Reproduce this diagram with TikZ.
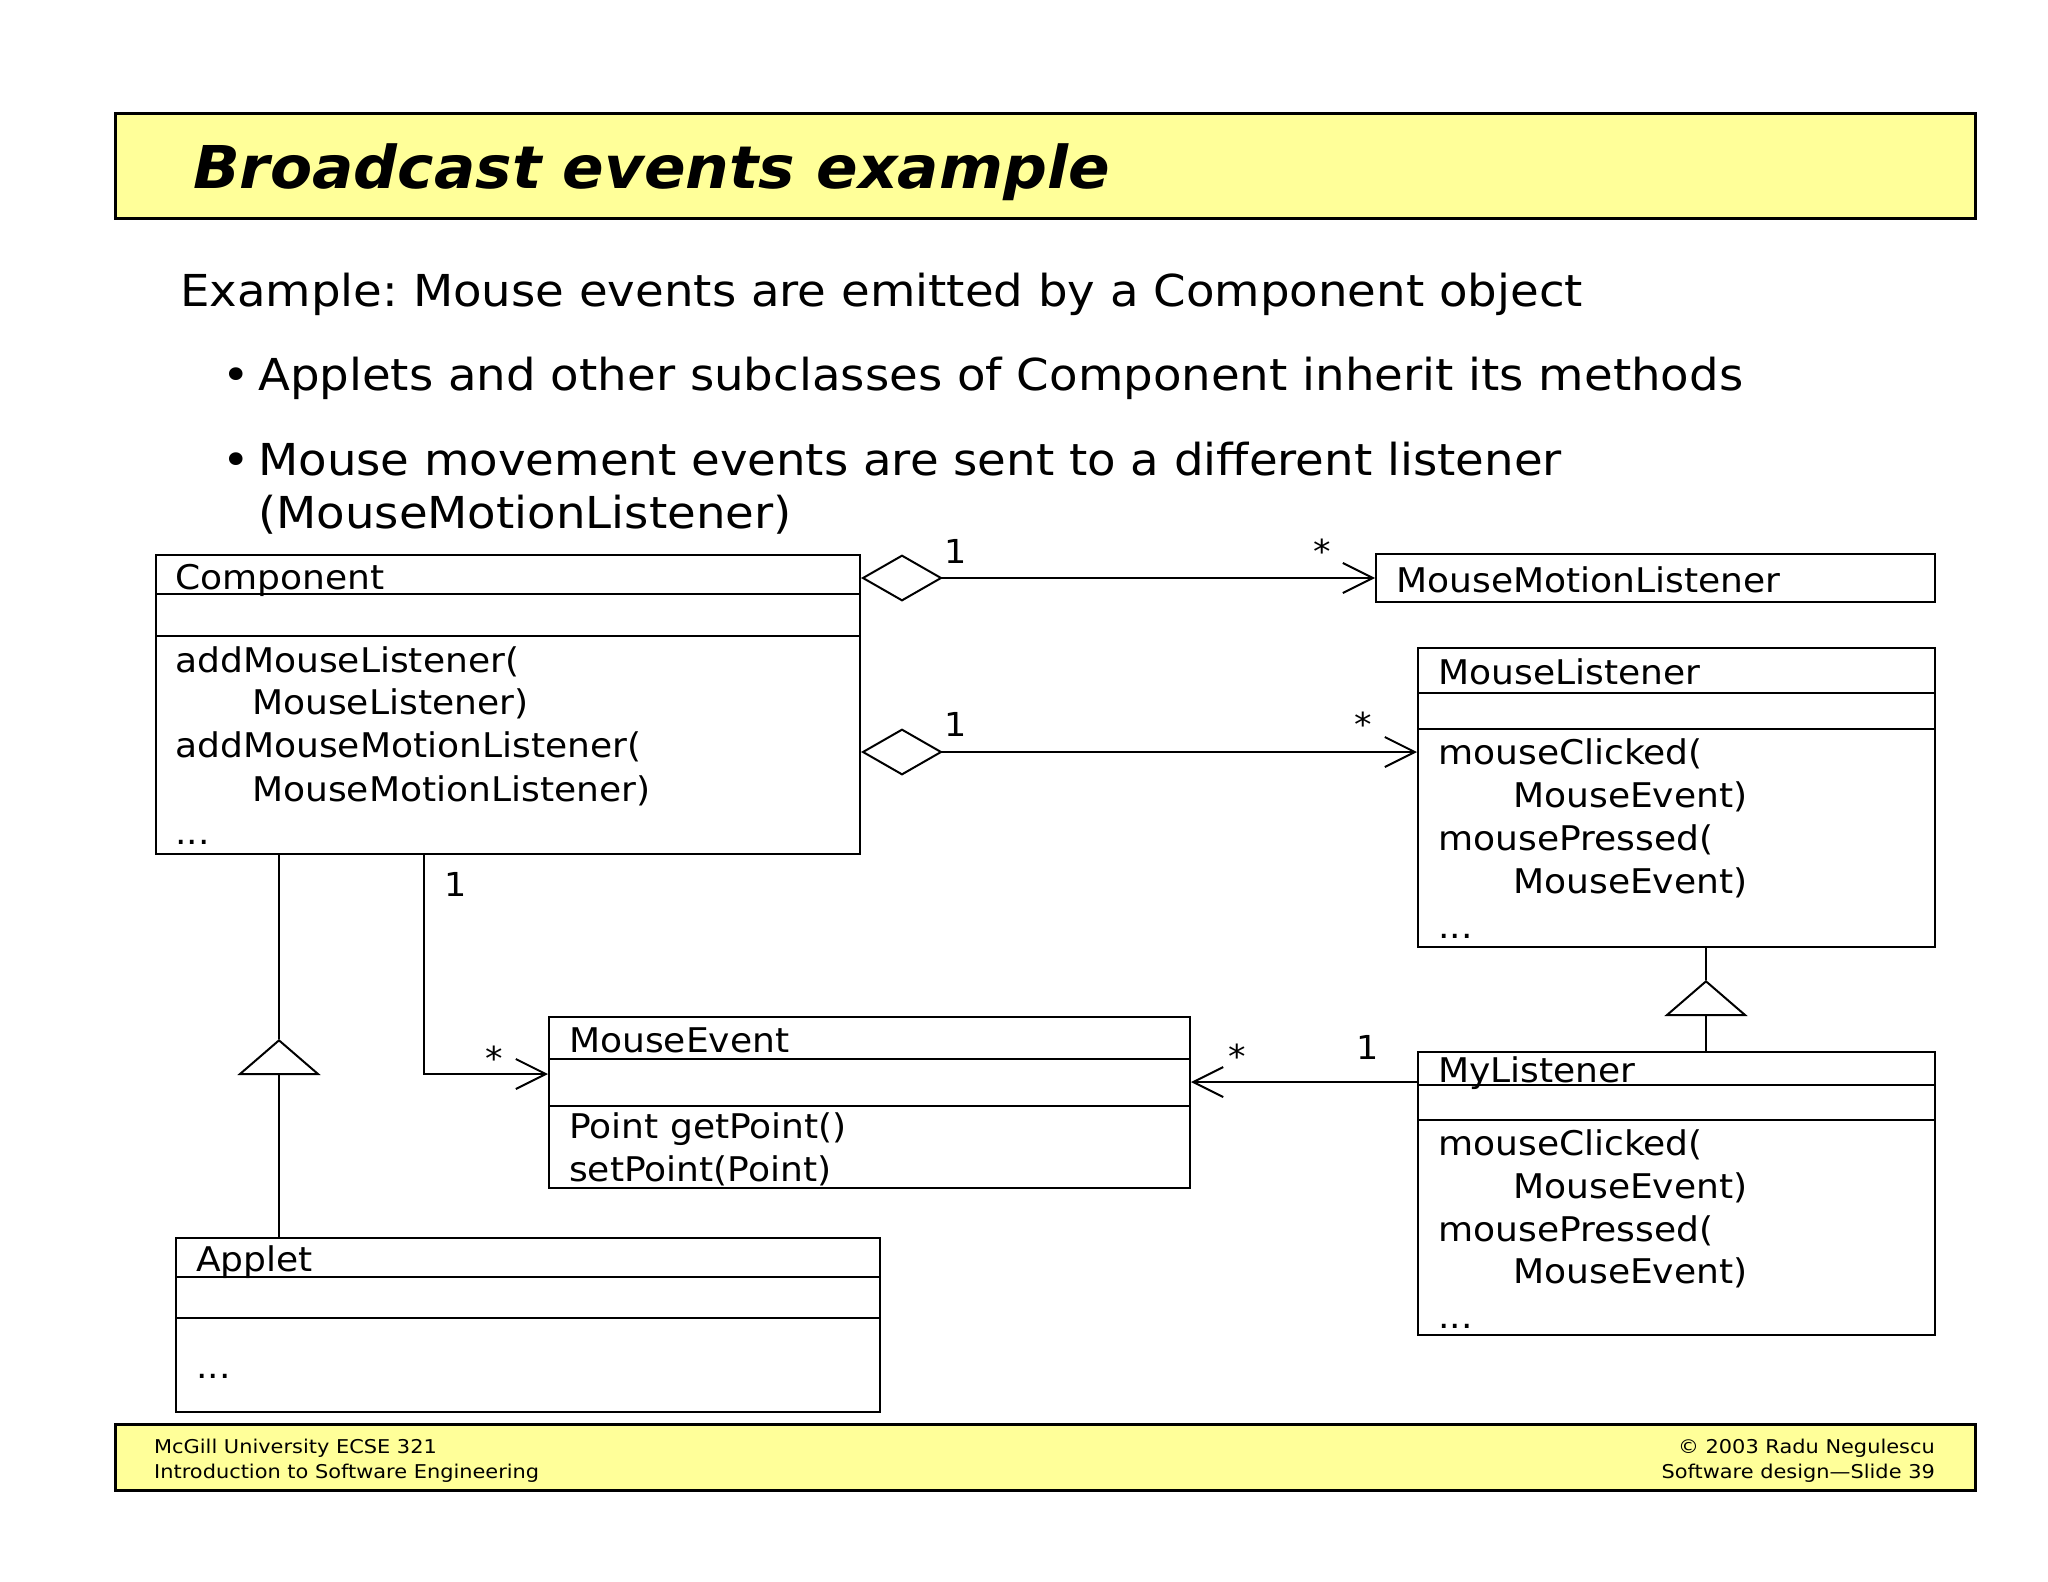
\documentclass[tikz,border=0pt]{standalone}
\usepackage{fontspec}
\setmainfont{DejaVu Sans}[FakeStretch=1.06]
\newfontfamily\titlefont{DejaVu Sans}[FakeStretch=1.04]
\newfontfamily\footfont{DejaVu Sans}[FakeStretch=1.10]
\usetikzlibrary{arrows.meta,calc}
\definecolor{slideyellow}{RGB}{255,255,153}
\frenchspacing
\begin{document}
\begin{tikzpicture}[x=1pt,y=-1pt,
  cls/.style={draw, line width=2pt, fill=white, inner sep=0, anchor=north west},
  banner/.style={draw, line width=2.5pt, fill=slideyellow, inner sep=0, anchor=north west},
  body/.style={anchor=base west, inner sep=0, font=\fontsize{44}{52}\selectfont},
  txt/.style={anchor=base west, inner sep=0, font=\fontsize{34}{43}\selectfont},
  mult/.style={anchor=base west, inner sep=0, font=\fontsize{33}{40}\selectfont},
  foot/.style={inner sep=0, font=\footfont\fontsize{19}{22}\selectfont},
  sep/.style={line width=2pt},
  assoc/.style={line width=2pt, -{Straight Barb[length=30pt, width=30pt, line width=2pt]}},
  aggr/.style={line width=2pt, {Diamond[open, length=82pt, width=47pt, line width=2pt]}-{Straight Barb[length=30pt, width=30pt, line width=2pt]}},
  gen/.style={line width=2pt, -{Triangle[open, length=36pt, width=83pt, line width=2pt]}},
  plain/.style={line width=2pt}
]
\useasboundingbox (0,0) rectangle (2048,1582);
\fill[white] (0,0) rectangle (2048,1582);

% title
\node[banner, minimum width=1860pt, minimum height=105pt] (titlebox) at (114,112) {};
\node[anchor=base west, inner sep=0, font=\titlefont\fontsize{59}{59}\selectfont\bfseries\itshape] (title) at (193,188) {Broadcast events example};

% body text
\node[body] (ex) at (180,306) {Example: Mouse events are emitted by a Component object};
\node[body] (b1) at (222,390) {\makebox[36pt][l]{•}Applets and other subclasses of Component inherit its methods};
\node[body] (b2) at (222,475) {\makebox[36pt][l]{•}Mouse movement events are sent to a different listener};
\node[body] (b2b) at (258,528) {(MouseMotionListener)};

% classes
\node[cls, minimum width=704pt, minimum height=299pt] (comp) at (155,554) {};
\draw[sep] (comp.west |- 0,594) -- (comp.east |- 0,594);
\draw[sep] (comp.west |- 0,636) -- (comp.east |- 0,636);
\node[txt] (compn) at (175,589) {Component};
\node[txt] (compm1) at (175,672) {addMouseListener(};
\node[txt] (compm2) at (252,714) {MouseListener)};
\node[txt] (compm3) at (175,757) {addMouseMotionListener(};
\node[txt] (compm4) at (252,801) {MouseMotionListener)};
\node[txt] (compm5) at (175,844) {...};

\node[cls, minimum width=559pt, minimum height=48pt] (mml) at (1375,553) {};
\node[txt] (mmln) at (1396,592) {MouseMotionListener};

\node[cls, minimum width=517pt, minimum height=299pt] (ml) at (1417,647) {};
\draw[sep] (ml.west |- 0,693) -- (ml.east |- 0,693);
\draw[sep] (ml.west |- 0,729) -- (ml.east |- 0,729);
\node[txt] (mln) at (1438,684) {MouseListener};
\node[txt] (mlm1) at (1438,764) {mouseClicked(};
\node[txt] (mlm2) at (1513,807) {MouseEvent)};
\node[txt] (mlm3) at (1438,850) {mousePressed(};
\node[txt] (mlm4) at (1513,893) {MouseEvent)};
\node[txt] (mlm5) at (1438,938) {...};

\node[cls, minimum width=517pt, minimum height=283pt] (myl) at (1417,1051) {};
\draw[sep] (myl.west |- 0,1085) -- (myl.east |- 0,1085);
\draw[sep] (myl.west |- 0,1120) -- (myl.east |- 0,1120);
\node[txt] (myln) at (1438,1082) {MyListener};
\node[txt] (mylm1) at (1438,1155) {mouseClicked(};
\node[txt] (mylm2) at (1513,1198) {MouseEvent)};
\node[txt] (mylm3) at (1438,1241) {mousePressed(};
\node[txt] (mylm4) at (1513,1283) {MouseEvent)};
\node[txt] (mylm5) at (1438,1328) {...};

\node[cls, minimum width=641pt, minimum height=171pt] (mev) at (548,1016) {};
\draw[sep] (mev.west |- 0,1059) -- (mev.east |- 0,1059);
\draw[sep] (mev.west |- 0,1106) -- (mev.east |- 0,1106);
\node[txt] (mevn) at (569,1052) {MouseEvent};
\node[txt] (mevm1) at (569,1138) {Point getPoint()};
\node[txt] (mevm2) at (569,1181) {setPoint(Point)};

\node[cls, minimum width=704pt, minimum height=174pt] (applet) at (175,1237) {};
\draw[sep] (applet.west |- 0,1277) -- (applet.east |- 0,1277);
\draw[sep] (applet.west |- 0,1318) -- (applet.east |- 0,1318);
\node[txt] (appn) at (196,1271) {Applet};
\node[txt] (appm) at (196,1378) {...};

% connectors
\draw[aggr] (comp.east |- mml.west) -- (mml.west);
\coordinate (mlin) at ([yshift=-105pt]ml.north west);
\draw[aggr] (comp.east |- mlin) -- (mlin);
\coordinate (mevin) at ([yshift=-58pt]mev.north west);
\draw[assoc] ([xshift=269pt]comp.south west) |- (mevin);
\coordinate (mylout) at ([yshift=-31pt]myl.north west);
\draw[assoc] (mylout) -- (mev.east |- mylout);
\coordinate (mylTop) at ([xshift=289pt]myl.north west);
\draw[gen] (mylTop) -- ++(0,-71);
\draw[plain] (mylTop) ++(0,-71) -- (mylTop |- ml.south);
\coordinate (appTop) at ([xshift=104pt]applet.north west);
\draw[gen] (appTop) -- ++(0,-198);
\draw[plain] (appTop) ++(0,-198) -- (appTop |- comp.south);

% multiplicities
\node[mult] (m1) at (944,563) {1};
\node[mult] (m2) at (1313,563) {*};
\node[mult] (m3) at (944,736) {1};
\node[mult] (m4) at (1354,736) {*};
\node[mult] (m5) at (444,896) {1};
\node[mult] (m6) at (485,1070) {*};
\node[mult] (m7) at (1228,1068) {*};
\node[mult] (m8) at (1356,1059) {1};

% footer
\node[banner, minimum width=1860pt, minimum height=66pt] (footer) at (114,1423) {};
\node[foot, anchor=base west] (f1) at (154,1453) {McGill University ECSE 321};
\node[foot, anchor=base west] (f2) at (154,1478) {Introduction to Software Engineering};
\node[foot, anchor=base east] (f3) at (1935,1453) {© 2003 Radu Negulescu};
\node[foot, anchor=base east] (f4) at (1935,1478) {Software design—Slide 39};
\end{tikzpicture}
\end{document}
